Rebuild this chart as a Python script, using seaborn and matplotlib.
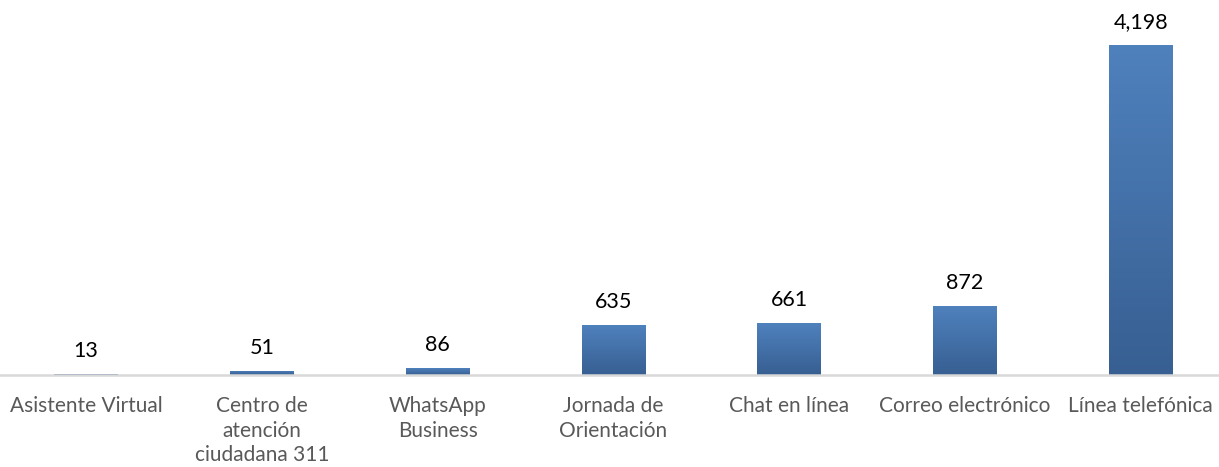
import numpy as np
import pandas as pd
import matplotlib
matplotlib.use("Agg")
import matplotlib.pyplot as plt
from matplotlib.colors import LinearSegmentedColormap
import seaborn as sns

# data
categorias = ["Asistente Virtual", "Centro de\natención\nciudadana 311", "WhatsApp\nBusiness",
              "Jornada de\nOrientación", "Chat en línea", "Correo electrónico", "Línea telefónica"]
valores = [13, 51, 86, 635, 661, 872, 4198]

df = pd.DataFrame({"canal": categorias, "total": valores})

sns.set_theme(style="white")
plt.rcParams['font.family'] = ['Lato', 'DejaVu Sans']

fig = plt.figure(figsize=(12.19, 4.67), dpi=100)
ax = fig.add_axes([-0.0015, 0.197, 1.0093, 0.757])

sns.barplot(data=df, x="canal", y="total", color="#4F81BD", width=0.36, ax=ax, saturation=1)

# gradient fill, lighter on top
cmap = LinearSegmentedColormap.from_list("grad", ["#375F92", "#4F81BD"])
grad = np.linspace(0, 1, 256).reshape(-1, 1)
for p in ax.patches:
    x0, y0 = p.get_x(), p.get_y()
    w, h = p.get_width(), p.get_height()
    im = ax.imshow(grad, cmap=cmap, origin="lower", aspect="auto",
                   extent=[x0, x0 + w, y0, y0 + h], zorder=p.get_zorder() + 0.1)
    im.set_clip_path(p)
ax.set_xlim(-0.5, len(categorias) - 0.5)
ax.set_ylim(0, 4500)

for i, v in enumerate(valores):
    ax.text(i, v + 170, f"{v:,}", ha="center", va="bottom", fontsize=15.5, color="black")

for s in ["top", "right", "left"]:
    ax.spines[s].set_visible(False)
ax.spines["bottom"].set_color("#D9D9D9")
ax.spines["bottom"].set_linewidth(1.8)
ax.set_yticks([])
ax.set_xlabel("")
ax.set_ylabel("")
ax.tick_params(axis="x", length=0, pad=15, labelsize=15, labelcolor="#595959")
for t in ax.get_xticklabels():
    t.set_linespacing(1.3)

fig.savefig("out.png", dpi=100)
